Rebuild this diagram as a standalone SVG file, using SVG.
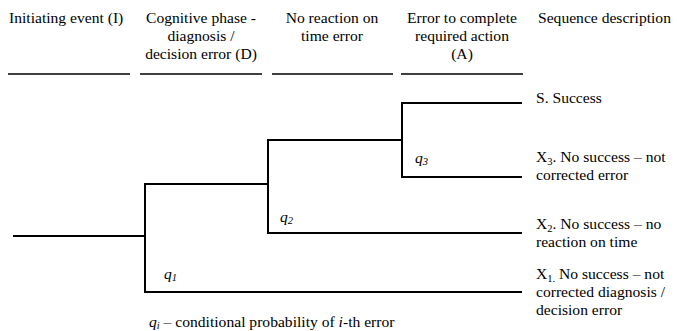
<svg xmlns="http://www.w3.org/2000/svg" width="677" height="331" viewBox="0 0 677 331">
<style>
text{font-family:'Liberation Serif','Times New Roman',serif;font-size:15.6px;fill:#000}
.c{text-anchor:middle}
.i{font-style:italic}
.s{font-size:10.5px}
.ln{stroke:#000;stroke-width:2;fill:none}
.hd{stroke:#000;stroke-width:1.6}
</style>
<rect width="677" height="331" fill="#fff"/>
<g id="headers">
<text x="9" y="23">Initiating event (I)</text>
<text class="c" x="201" y="23">Cognitive phase -</text>
<text class="c" x="201" y="41">diagnosis /</text>
<text class="c" x="201" y="59">decision error (D)</text>
<text class="c" x="332" y="23">No reaction on</text>
<text class="c" x="332" y="41">time error</text>
<text class="c" x="462" y="23">Error to complete</text>
<text class="c" x="462" y="41">required action</text>
<text class="c" x="462" y="59">(A)</text>
<text x="538" y="23">Sequence description</text>
<line class="hd" x1="8" y1="74" x2="130" y2="74"/>
<line class="hd" x1="140" y1="74" x2="262" y2="74"/>
<line class="hd" x1="272" y1="74" x2="393" y2="74"/>
<line class="hd" x1="401" y1="74" x2="523" y2="74"/>
</g>
<g id="connectors">
<path class="ln" d="M13,236 H145"/>
<path class="ln" d="M522,292 H145 V184 H268"/>
<path class="ln" d="M522,233 H268 V140 H402"/>
<path class="ln" d="M522,177 H402 V103 H522"/>
</g>
<g id="probabilities">
<text class="i" x="164" y="279">q<tspan class="s" dy="2">1</tspan></text>
<text class="i" x="280" y="222">q<tspan class="s" dy="2">2</tspan></text>
<text class="i" x="415" y="163">q<tspan class="s" dy="2">3</tspan></text>
</g>
<g id="outcome-S"><text x="536" y="103">S. Success</text></g>
<g id="outcome-X3">
<text x="536" y="162">X<tspan class="s" dy="3">3</tspan><tspan dy="-3">. No success – not</tspan></text>
<text x="536" y="180">corrected error</text>
</g>
<g id="outcome-X2">
<text x="536" y="229">X<tspan class="s" dy="3">2</tspan><tspan dy="-3">. No success – no</tspan></text>
<text x="536" y="247">reaction on time</text>
</g>
<g id="outcome-X1">
<text x="536" y="279">X<tspan class="s" dy="3">1.</tspan><tspan dy="-3"> No success – not</tspan></text>
<text x="536" y="297">corrected diagnosis /</text>
<text x="536" y="315">decision error</text>
</g>
<g id="legend">
<text x="149" y="327"><tspan class="i">q</tspan><tspan class="i s" dy="2">i</tspan><tspan dy="-2"> – conditional probability of </tspan><tspan class="i">i</tspan>-th error</text>
</g>
</svg>
